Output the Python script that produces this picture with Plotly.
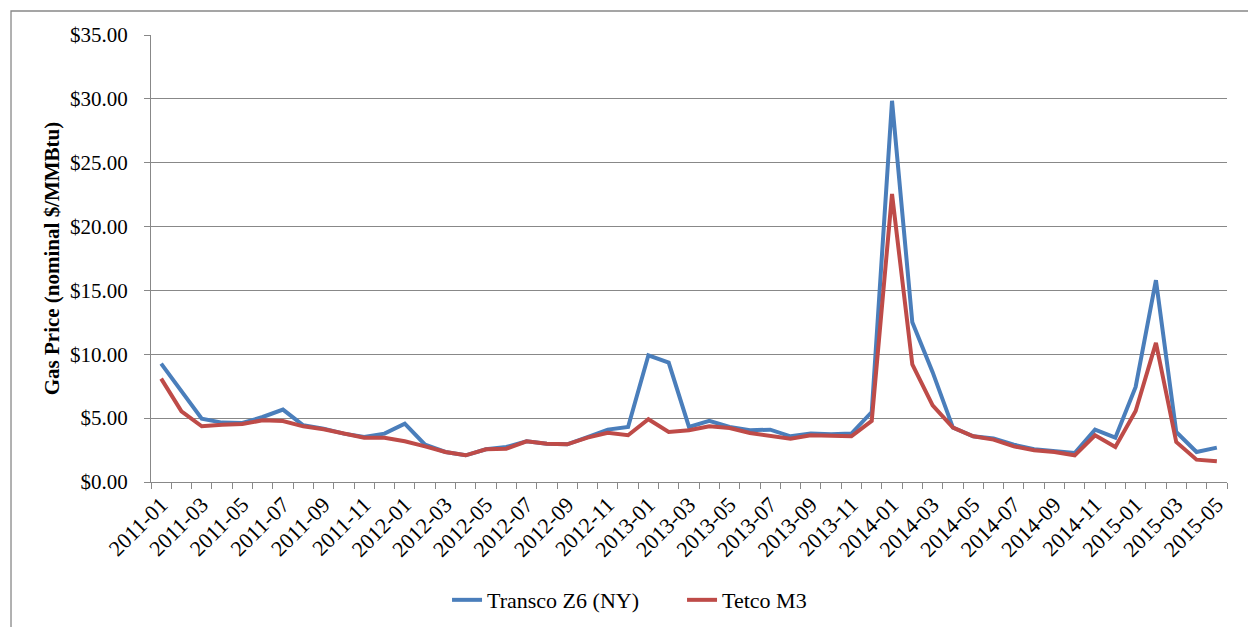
import plotly.graph_objects as go

months = [f"{y}-{m:02d}" for y in range(2011, 2016) for m in range(1, 13)][:53]

transco = [9.27, 7.05, 4.96, 4.65, 4.62, 5.09, 5.67, 4.44, 4.18, 3.79,
           3.52, 3.79, 4.57, 2.92, 2.35, 2.09, 2.56, 2.74, 3.19, 3.00,
           2.95, 3.52, 4.10, 4.31, 9.92, 9.35, 4.31, 4.78, 4.31, 4.05,
           4.10, 3.58, 3.79, 3.73, 3.79, 5.48, 29.85, 12.50, 8.60, 4.26,
           3.58, 3.40, 2.92, 2.56, 2.43, 2.27, 4.10, 3.47, 7.44, 15.80,
           3.92, 2.35, 2.69]
tetco = [8.09, 5.54, 4.36, 4.49, 4.54, 4.83, 4.78, 4.36, 4.13, 3.79,
         3.47, 3.47, 3.19, 2.79, 2.35, 2.09, 2.56, 2.61, 3.19, 3.00,
         2.95, 3.47, 3.86, 3.66, 4.91, 3.92, 4.05, 4.36, 4.23, 3.84,
         3.60, 3.39, 3.66, 3.60, 3.58, 4.78, 22.55, 9.20, 6.00, 4.26,
         3.58, 3.32, 2.79, 2.48, 2.35, 2.09, 3.66, 2.74, 5.56, 10.89,
         3.13, 1.75, 1.62]

x_idx = list(range(len(months)))
tick_idx = x_idx[::2]
tick_txt = months[::2]

FONT = "Palatino Linotype, Book Antiqua, Palatino, Liberation Serif, serif"

fig = go.Figure()
fig.add_trace(go.Scatter(x=x_idx, y=transco, mode="lines", name="Transco Z6 (NY)",
                         line=dict(color="#4A7EBB", width=4)))
fig.add_trace(go.Scatter(x=x_idx, y=tetco, mode="lines", name="Tetco M3",
                         line=dict(color="#BE4B48", width=4)))

fig.update_layout(
    width=1248, height=627,
    margin=dict(l=151, r=21, t=35, b=145),
    paper_bgcolor="white", plot_bgcolor="white",
    font=dict(family=FONT, size=20, color="black"),
    showlegend=True,
    legend=dict(orientation="h", xref="container", yref="container",
                x=0.5465, xanchor="center", y=0.043, yanchor="middle",
                font=dict(size=22), bgcolor="rgba(0,0,0,0)", entrywidth=190),
    xaxis=dict(
        automargin=False,
        range=[-0.5, len(months) - 0.5],
        tickmode="array", tickvals=tick_idx, ticktext=tick_txt,
        tickangle=-45, ticks="", showgrid=False, zeroline=False,
        showline=True, linecolor="#888888", linewidth=1.3,
        tickfont=dict(size=22),
        minor=dict(tickmode="linear", tick0=-0.5, dtick=1, ticks="outside",
                   ticklen=6, tickcolor="#888888", tickwidth=1.3, showgrid=False),
    ),
    yaxis=dict(
        automargin=False,
        range=[0, 35], dtick=5, tick0=0,
        tickprefix="$", tickformat=".2f",
        showgrid=True, gridcolor="#888888", gridwidth=1.3,
        zeroline=False, showline=True, linecolor="#888888", linewidth=1.3,
        ticks="outside", ticklen=6, tickcolor="#888888", tickwidth=1.3,
        tickfont=dict(size=21), ticklabelstandoff=12,
        title=dict(text="<b>Gas Price (nominal $/MMBtu)</b>", font=dict(size=21), standoff=4),
    ),
)

fig.add_shape(type="rect", xref="paper", yref="paper",
              x0=-0.1301, x1=1.05, y0=-0.4, y1=1.0537,
              line=dict(color="#888888", width=1.3), fillcolor="rgba(0,0,0,0)", layer="below")

fig.write_html("out.html", config={"displayModeBar": False},
               post_script="document.body.style.margin='0';document.body.style.overflow='hidden';")
